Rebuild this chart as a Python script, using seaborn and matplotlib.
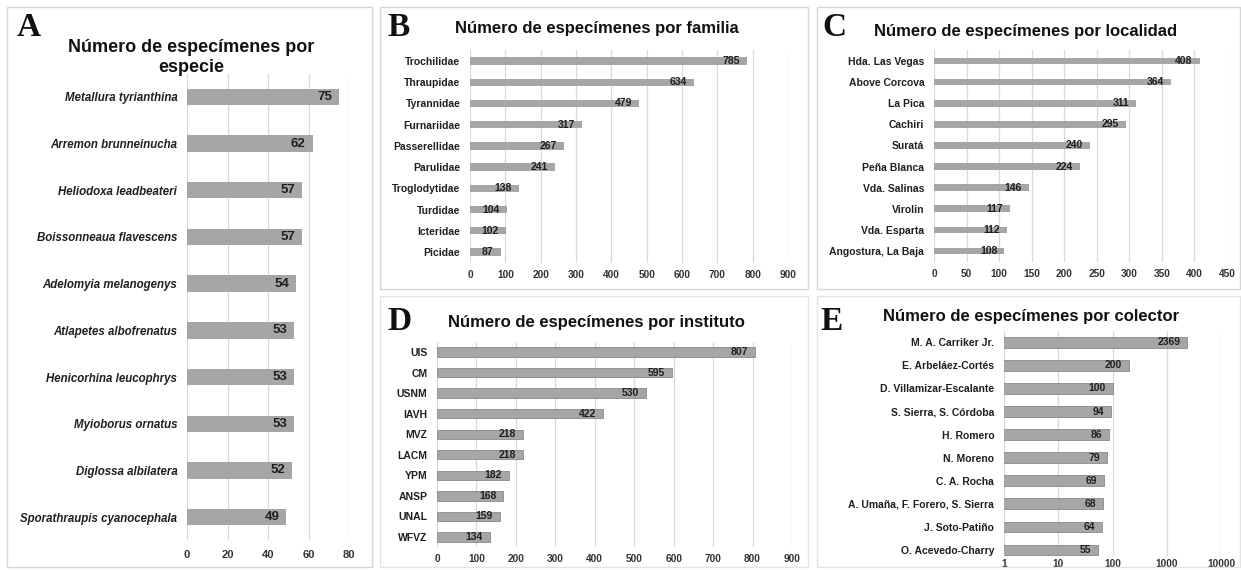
import matplotlib
matplotlib.use("Agg")
import matplotlib.pyplot as plt
import seaborn as sns
import pandas as pd
from matplotlib.patches import Rectangle

# ---------------- data ----------------
especies = ["Metallura tyrianthina", "Arremon brunneinucha", "Heliodoxa leadbeateri",
            "Boissonneaua flavescens", "Adelomyia melanogenys", "Atlapetes albofrenatus",
            "Henicorhina leucophrys", "Myioborus ornatus", "Diglossa albilatera",
            "Sporathraupis cyanocephala"]
especie_n = [75, 62, 57, 57, 54, 53, 53, 53, 52, 49]

familias = ["Trochilidae", "Thraupidae", "Tyrannidae", "Furnariidae", "Passerellidae",
            "Parulidae", "Troglodytidae", "Turdidae", "Icteridae", "Picidae"]
familia_n = [785, 634, 479, 317, 267, 241, 138, 104, 102, 87]

localidades = ["Hda. Las Vegas", "Above Corcova", "La Pica", "Cachiri", "Suratá",
               "Peña Blanca", "Vda. Salinas", "Virolin", "Vda. Esparta", "Angostura, La Baja"]
localidad_n = [408, 364, 311, 295, 240, 224, 146, 117, 112, 108]

institutos = ["UIS", "CM", "USNM", "IAVH", "MVZ", "LACM", "YPM", "ANSP", "UNAL", "WFVZ"]
instituto_n = [807, 595, 530, 422, 218, 218, 182, 168, 159, 134]

colectores = ["M. A. Carriker Jr.", "E. Arbeláez-Cortés", "D. Villamizar-Escalante",
              "S. Sierra, S. Córdoba", "H. Romero", "N. Moreno", "C. A. Rocha",
              "A. Umaña, F. Forero, S. Sierra", "J. Soto-Patiño", "O. Acevedo-Charry"]
colector_n = [2369, 200, 100, 94, 86, 79, 69, 68, 64, 55]

titulo_a = "Número de especímenes por\nespecie"
titulo_b = "Número de especímenes por familia"
titulo_c = "Número de especímenes por localidad"
titulo_d = "Número de especímenes por instituto"
titulo_e = "Número de especímenes por colector"

# ---------------- style ----------------
sns.set_theme(style="white")
plt.rcParams["font.family"] = ["Liberation Sans", "DejaVu Sans"]

W, H = 1241, 570
BAR = "#a6a6a6"
GRID = "#d9d9d9"
TXT = "#1f1f1f"

fig = plt.figure(figsize=(W / 100, H / 100), dpi=100)
fig.patch.set_facecolor("white")


def rect(l, r, t, b):
    return [l / W, 1 - b / H, (r - l) / W, (b - t) / H]


def frame(x1, y1, x2, y2, color="#d6d6d6"):
    fig.add_artist(Rectangle((x1 / W, 1 - y2 / H), (x2 - x1) / W, (y2 - y1) / H,
                             transform=fig.transFigure, fill=False,
                             edgecolor=color, lw=1.0))


def panel(box, labels, values, xlim, xticks, width, ylim=(9.5, -0.5), log=False,
          ytick_style=None, ytick_size=7.5, xtick_size=7.3, val_size=7.5, xpad=5,
          edge=None):
    ax = fig.add_axes(rect(*box))
    df = pd.DataFrame({"cat": labels, "n": values})
    sns.barplot(data=df, x="n", y="cat", orient="h", color=BAR, saturation=1,
                width=width, ax=ax, edgecolor=edge if edge else BAR,
                linewidth=0.6 if edge else 0)
    if log:
        ax.set_xscale("log")
        ax.minorticks_off()
    ax.set_xlim(*xlim)
    ax.set_ylim(*ylim)
    ax.set_xticks(xticks, labels=[str(t) for t in xticks])
    ax.set_axisbelow(True)
    ax.xaxis.grid(True, color=GRID, lw=0.9)
    ax.yaxis.grid(False)
    for s in ax.spines.values():
        s.set_visible(False)
    ax.set_xlabel("")
    ax.set_ylabel("")
    ax.set_facecolor("none")
    ax.tick_params(axis="x", length=0, pad=xpad, labelsize=xtick_size, labelcolor="#333333")
    ax.tick_params(axis="y", length=0, pad=7, labelsize=ytick_size, labelcolor=TXT)
    for t in ax.get_xticklabels():
        t.set_fontweight("bold")
    for t in ax.get_yticklabels():
        t.set_fontweight("bold")
        if ytick_style:
            t.set_fontstyle(ytick_style)
    texts = ax.bar_label(ax.containers[0], labels=[str(v) for v in values], padding=-5,
                         fontsize=val_size, fontweight="bold", color=TXT)
    for t in texts:
        t.set_ha("right")
    return ax


# panel frames
frame(7, 7, 372, 567)
frame(380, 7, 808, 289)
frame(817, 7, 1240, 289)
frame(380, 296, 808, 567, "#e4e4e4")
frame(817, 296, 1240, 567, "#e4e4e4")

# A
panel((187, 349, 73.6, 540.4), especies, especie_n, (0, 80), [0, 20, 40, 60, 80], 0.35,
      ytick_style="italic", ytick_size=8.3, xtick_size=8, val_size=9.5, xpad=7)
# B
panel((470, 788, 50.4, 262.6), familias, familia_n, (0, 900), list(range(0, 901, 100)), 0.35,
      xpad=5)
# C
panel((934, 1227, 50.4, 261.6), localidades, localidad_n, (0, 450), list(range(0, 451, 50)), 0.32,
      xpad=5)
# D
panel((437, 792, 341.7, 547.3), institutos, instituto_n, (0, 900), list(range(0, 901, 100)), 0.45,
      xpad=5, edge="#8a8a8a")
# E
panel((1004, 1221, 330.8, 555.8), colectores, colector_n, (1, 10000), [1, 10, 100, 1000, 10000],
      0.47, ylim=(9.25, -0.5), log=True, xpad=2, edge="#8a8a8a")

# titles
tkw = dict(ha="center", va="center", fontsize=12, fontweight="bold", color="#111111")
fig.text(191 / W, 1 - 57.5 / H, titulo_a, linespacing=1.2,
         **{**tkw, "fontsize": 13})
fig.text(597 / W, 1 - 28.5 / H, titulo_b, **tkw)
fig.text(1026 / W, 1 - 31.5 / H, titulo_c, **tkw)
fig.text(596 / W, 1 - 322 / H, titulo_d, **tkw)
fig.text(1031 / W, 1 - 317 / H, titulo_e, **tkw)

# panel letters
lkw = dict(ha="center", va="center", fontsize=24, fontweight="bold",
           family=["Liberation Serif", "DejaVu Serif"], color="#111111")
fig.text(28.5 / W, 1 - 28 / H, "A", **lkw)
fig.text(399 / W, 1 - 27.5 / H, "B", **lkw)
fig.text(834 / W, 1 - 27.5 / H, "C", **lkw)
fig.text(400 / W, 1 - 322 / H, "D", **lkw)
fig.text(832 / W, 1 - 322 / H, "E", **lkw)

fig.savefig("out.png", dpi=100, facecolor="white")
